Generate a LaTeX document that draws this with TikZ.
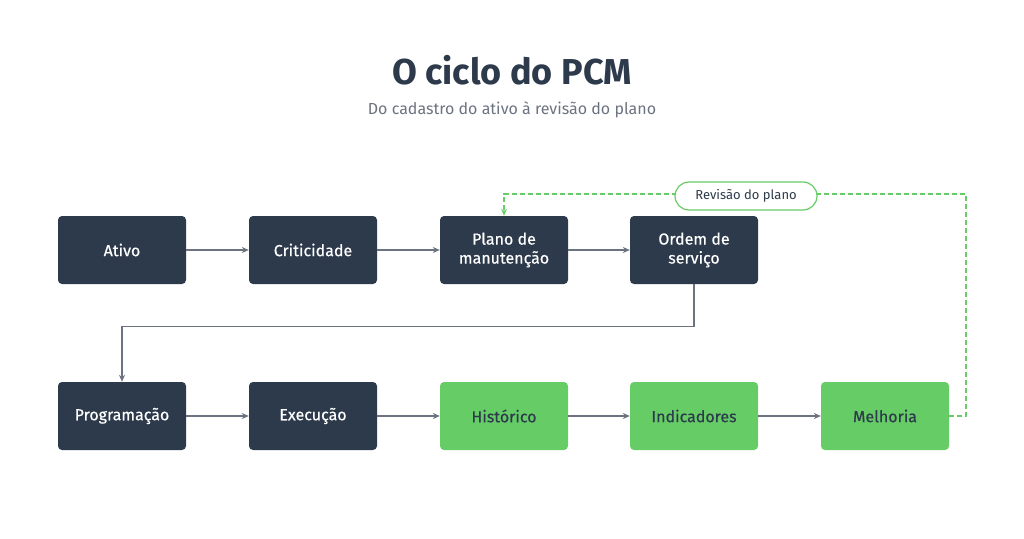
\documentclass[tikz,border=0pt]{standalone}
\usepackage{fontspec}
\setmainfont{Fira Sans}
\usetikzlibrary{positioning,calc,arrows.meta}
\definecolor{navy}{HTML}{2D3A4B}
\definecolor{leaf}{HTML}{66CC66}
\definecolor{wire}{HTML}{6B7280}
\begin{document}
\begin{tikzpicture}[x=1pt,y=-1pt]
\tikzset{
  base/.style={rounded corners=4pt, align=center, minimum width=128pt, minimum height=68pt, text=white, font=\fontsize{16}{19}\selectfont\addfontfeature{FakeBold=0.4}},
  dark/.style={base, fill=navy},
  lite/.style={base, fill=leaf, text=navy},
  flow/.style={-{Stealth[length=7pt,width=6pt]}, draw=wire, line width=1.2pt},
  back/.style={-{Stealth[length=7pt,width=6pt]}, draw=leaf, line width=1.2pt, dash pattern=on 5pt off 3pt},
}
\useasboundingbox (0,0) rectangle (1024,538);

\node[font=\fontsize{36}{40}\selectfont\bfseries, text=navy] (title) at (512,70) {O ciclo do PCM};
\node[font=\fontsize{16}{19}\selectfont, text=wire] (sub) at (512,110) {Do cadastro do ativo à revisão do plano};

\node[dark] (ativo) at (122,250) {Ativo};
\node[dark] (crit) at (313,250) {Criticidade};
\node[dark] (plano) at (504,250) {Plano de\\manutenção};
\node[dark] (ordem) at (694,250) {Ordem de\\serviço};

\node[dark] (prog) at (122,416) {Programação};
\node[dark] (exec) at (313,416) {Execução};
\node[lite] (hist) at (504,416) {Histórico};
\node[lite] (ind) at (694,416) {Indicadores};
\node[lite] (melh) at (885,416) {Melhoria};

\draw[flow] (ativo) -- (crit);
\draw[flow] (crit) -- (plano);
\draw[flow] (plano) -- (ordem);
\draw[flow] (ordem.south) -- ++(0,42) -| (prog.north);
\draw[flow] (prog) -- (exec);
\draw[flow] (exec) -- (hist);
\draw[flow] (hist) -- (ind);
\draw[flow] (ind) -- (melh);

\coordinate (turn) at (966,194);
\draw[back] (melh.east) -| (turn) -| (plano.north);
\node[draw=leaf, line width=1.2pt, fill=white, rounded corners=14pt, minimum width=142pt, minimum height=28pt, text=navy, font=\fontsize{13}{15}\selectfont] (rev) at (746,196) {Revisão do plano};
\end{tikzpicture}
\end{document}
